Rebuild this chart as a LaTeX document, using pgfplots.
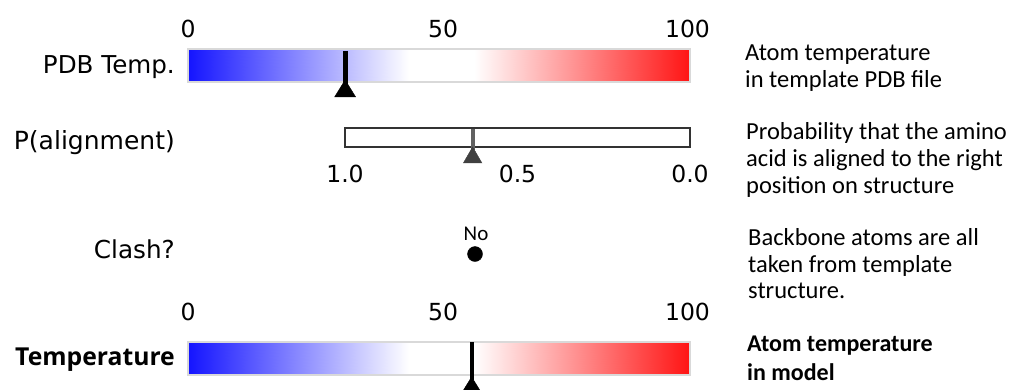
\documentclass[border=0pt]{standalone}
\usepackage{fontspec}
\setmainfont{Carlito}
\newfontfamily\dv{DejaVu Sans}
\newfontfamily\os{Open Sans}
\usepackage{pgfplots}
\usepackage{pgfplotstable}
\pgfplotsset{compat=1.18}

\pgfplotstableread{
x y
0 0
44 0
57 0
100 0
0 1
44 1
57 1
100 1
}\gradtab

\pgfplotsset{
  colormap={bwr}{rgb255(0pt)=(20,20,255) rgb255(44pt)=(255,255,255) rgb255(57pt)=(255,255,255) rgb255(100pt)=(255,20,20)},
  tempbar/.style={scale only axis, width=502pt, height=33pt, xmin=0, xmax=100, ymin=0, ymax=1,
    clip=false, axis line style={draw=none}, ytick=\empty, major tick length=0pt,
    xtick={0,50.8,99.5}, xticklabels={0,50,100}, xticklabel pos=upper,
    xticklabel style={font=\dv\fontsize{23.5}{28}\selectfont, inner sep=0pt, yshift=10.5pt},
    anchor=south west, colormap name=bwr, point meta min=0, point meta max=100},
}
\tikzset{txt/.style={inner sep=0pt, anchor=base west, font=\fontsize{24.5}{28}\selectfont}}

\begin{document}
\begin{tikzpicture}
% canvas with labels and notes (pixel coordinates, y downward)
\begin{axis}[at={(0pt,0pt)}, anchor=south west, scale only axis, width=1011pt, height=389pt,
  xmin=0, xmax=1011, ymin=0, ymax=389, y dir=reverse, hide axis, clip=false]
  \node[inner sep=0pt, anchor=base east, font=\dv\fontsize{24.6}{30}\selectfont] at (axis cs:175,73) {PDB Temp.};
  \node[inner sep=0pt, anchor=base east, font=\dv\fontsize{25}{30}\selectfont] at (axis cs:175,149) {P(alignment)};
  \node[inner sep=0pt, anchor=base east, font=\dv\fontsize{24.7}{30}\selectfont] at (axis cs:175,258) {Clash?};
  \node[inner sep=0pt, anchor=base east, font=\os\bfseries\fontsize{24.7}{30}\selectfont] at (axis cs:175,365) {Temperature};
  % clash indicator
  \addplot[only marks, mark=*, mark size=7.5pt, mark options={fill=black, draw=black}] coordinates {(475,254)};
  \node[inner sep=0pt, anchor=base, font=\fontsize{21}{24}\selectfont] at (axis cs:476,240) {No};
  % notes
  \node[txt] at (axis cs:745,60) {Atom temperature};
  \node[txt] at (axis cs:745,87) {in template PDB file};
  \node[txt] at (axis cs:746,139) {Probability that the amino};
  \node[txt] at (axis cs:746,166) {acid is aligned to the right};
  \node[txt] at (axis cs:746,193) {position on structure};
  \node[txt] at (axis cs:748,245) {Backbone atoms are all};
  \node[txt] at (axis cs:748,272) {taken from template};
  \node[txt] at (axis cs:748,298) {structure.};
  \node[txt, font=\bfseries\fontsize{24}{28}\selectfont] at (axis cs:747,351) {Atom temperature};
  \node[txt, font=\bfseries\fontsize{24}{28}\selectfont] at (axis cs:747,380) {in model};
\end{axis}

% PDB temperature bar
\begin{axis}[tempbar, at={(188pt,307pt)}]
  \addplot[surf, shader=interp, mesh/rows=2, mesh/cols=4, point meta=x] table {\gradtab};
  \addplot[draw=black!15, line width=1.2pt, line cap=rect] coordinates {(0,0) (100,0) (100,1) (0,1) (0,0)};
  \addplot[black, line width=5pt] coordinates {(31.3,0.94) (31.3,-0.1)};
  \addplot[only marks, mark=triangle*, mark size=11.3pt, mark options={fill=black, draw=black, xscale=1.07}] coordinates {(31.3,-0.28)};
\end{axis}

% P(alignment) bar
\begin{axis}[scale only axis, width=345pt, height=19pt, at={(345pt,242pt)}, anchor=south west,
  xmin=0, xmax=1, x dir=reverse, ymin=0, ymax=1, clip=false,
  axis line style={draw=black!80, line width=1.3pt}, major tick length=0pt, ytick=\empty,
  xtick={0,0.5,1}, xticklabels={0.0,0.5,1.0}, xticklabel pos=lower,
  xticklabel style={font=\dv\fontsize{23.5}{28}\selectfont, inner sep=0pt, yshift=-18pt}]
  \addplot[black!62, line width=4pt] coordinates {(0.63,0.95) (0.63,-0.16)};
  \addplot[only marks, mark=triangle*, mark size=10.7pt, mark options={fill=black!75, draw=black!75}] coordinates {(0.63,-0.56)};
\end{axis}

% model temperature bar
\begin{axis}[tempbar, at={(188pt,14pt)}, xticklabel style={yshift=10pt}]
  \addplot[surf, shader=interp, mesh/rows=2, mesh/cols=4, point meta=x] table {\gradtab};
  \addplot[draw=black!15, line width=1.2pt, line cap=rect] coordinates {(0,0) (100,0) (100,1) (0,1) (0,0)};
  \addplot[black, line width=4pt] coordinates {(56.5,1) (56.5,-0.15)};
  \addplot[only marks, mark=triangle*, mark size=11.3pt, mark options={fill=black, draw=black, xscale=1.07}] coordinates {(56.5,-0.40)};
\end{axis}

\pgfresetboundingbox
\path[use as bounding box] (0pt,0pt) rectangle (1011pt,389pt);
\end{tikzpicture}
\end{document}
